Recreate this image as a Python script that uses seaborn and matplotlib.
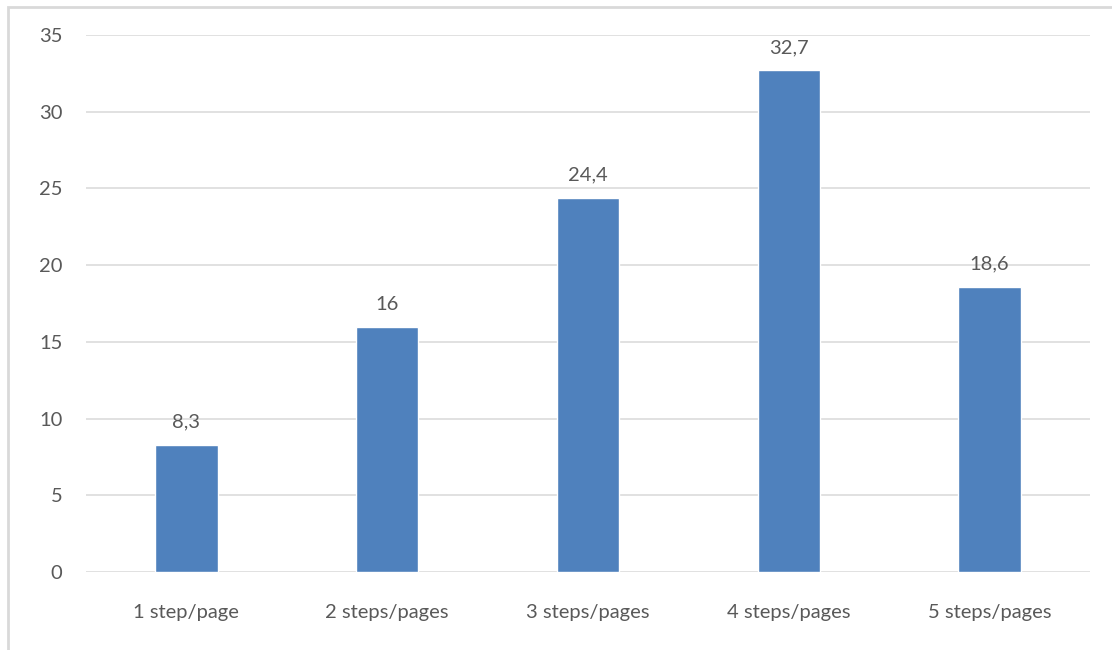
import matplotlib
matplotlib.use("Agg")
import matplotlib.pyplot as plt
import seaborn as sns
import pandas as pd
from matplotlib.patches import Rectangle

categories = ["1 step/page", "2 steps/pages", "3 steps/pages", "4 steps/pages", "5 steps/pages"]
values = [8.3, 16, 24.4, 32.7, 18.6]
y_ticks = [0, 5, 10, 15, 20, 25, 30, 35]

sns.set_theme(style="white")
plt.rcParams["font.family"] = ["Lato", "DejaVu Sans"]

text_color = "#595959"
grid_color = "#D9D9D9"
bar_color = "#4F81BD"
font_size = 14.5

df = pd.DataFrame({"category": categories, "value": values})

fig = plt.figure(figsize=(11.12, 6.5), dpi=100)
ax = fig.add_axes([86 / 1112, 1 - 572 / 650, 1004 / 1112, 537 / 650])

sns.barplot(data=df, x="category", y="value", color=bar_color, width=0.31,
            saturation=1, ax=ax, zorder=3)

ax.set_ylim(0, 35)
ax.set_xlim(-0.5, len(categories) - 0.5)
ax.set_yticks(y_ticks)
ax.set_yticklabels([str(t) for t in y_ticks])
ax.yaxis.grid(True, color=grid_color, linewidth=1.1, zorder=0)
ax.set_axisbelow(True)
for s in ax.spines.values():
    s.set_visible(False)
ax.tick_params(axis="both", length=0, labelsize=font_size, colors=text_color)
ax.tick_params(axis="y", pad=17)
ax.tick_params(axis="x", pad=23)
ax.set_xlabel("")
ax.set_ylabel("")

# Value labels with decimal comma
for i, v in enumerate(values):
    label = f"{v:g}".replace(".", ",")
    ax.annotate(label, (i, v), xytext=(0, 10), textcoords="offset points",
                ha="center", va="bottom", fontsize=font_size, color=text_color)

# Chart frame
fig.patches.append(Rectangle((8 / 1112, -0.1), 1.2, 1 - 7 / 650 + 0.1,
                             transform=fig.transFigure, fill=False,
                             edgecolor=grid_color, linewidth=2))

fig.savefig("out.png", dpi=100)
